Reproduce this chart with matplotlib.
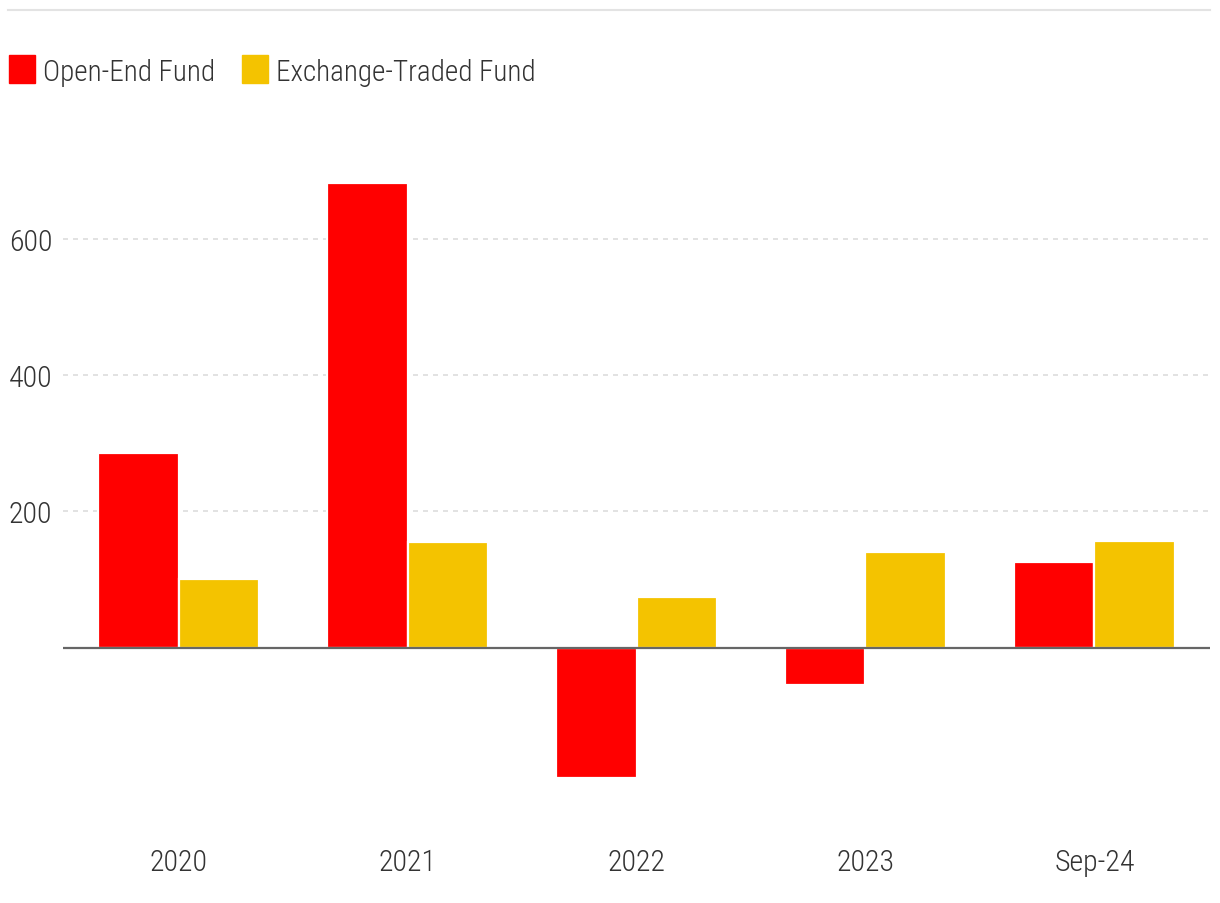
import matplotlib
matplotlib.use("Agg")
import matplotlib.pyplot as plt
from matplotlib.patches import Rectangle
from matplotlib.lines import Line2D
import matplotlib.transforms as mtransforms
import numpy as np

categories = ["2020", "2021", "2022", "2023", "Sep-24"]
open_end = [286, 682, -191, -55, 125]
etf = [101, 155, 75, 141, 157]
series_names = ["Open-End Fund", "Exchange-Traded Fund"]
yticks = [200, 400, 600]

plt.rcParams['font.family'] = ['Roboto Condensed', 'DejaVu Sans']
plt.rcParams['font.weight'] = 300

W, H = 1220, 904
fig = plt.figure(figsize=(W/100, H/100), dpi=100)
ax = fig.add_axes([63/W, 1-802/H, (1210-63)/W, (802-141)/H])

x = np.arange(len(categories))
bw = 0.35
red = "#ff0000"
gold = "#f4c300"
txtc = "#333333"
ax.bar(x - bw/2, open_end, bw, color=red, edgecolor="white", linewidth=1.6, zorder=2)
ax.bar(x + bw/2, etf, bw, color=gold, edgecolor="white", linewidth=1.6, zorder=2)

ax.set_xlim(-0.505, 4.505)
ax.set_ylim(-225, 745)
ax.set_yticks(yticks)
ax.set_yticklabels([str(v) for v in yticks])
ax.yaxis.grid(True, color="#dddddd", linestyle=(0, (3, 3)), linewidth=1.2, zorder=0)
ax.set_axisbelow(True)
ax.axhline(0, color="#666666", linewidth=1.6, zorder=3)
ax.set_xticks(x)
ax.set_xticklabels(categories)
for s in ax.spines.values():
    s.set_visible(False)
ax.tick_params(axis="both", length=0, labelsize=21.5, colors=txtc)
ax.tick_params(axis="x", pad=34)
ax.tick_params(axis="y", pad=0)
ytrans = mtransforms.blended_transform_factory(fig.transFigure, ax.transData)
for lbl in ax.get_yticklabels():
    lbl.set_horizontalalignment("left")
    lbl.set_transform(ytrans)
    lbl.set_x(9/W)

fig.add_artist(Line2D([8/W, 1210/W], [1-11/H, 1-11/H], color="#e3e3e3", linewidth=1.5))

# legend
sq_w, sq_h = 26, 28
leg_y = 70
items = [(9, red, series_names[0], 43), (242, gold, series_names[1], 276)]
for sx, col, name, tx in items:
    fig.add_artist(Rectangle((sx/W, 1-(leg_y+sq_h/2)/H), sq_w/W, sq_h/H,
                             transform=fig.transFigure, color=col))
    fig.text(tx/W, 1-leg_y/H, name, fontsize=21, color=txtc, va="center_baseline", ha="left")

fig.savefig("out.png", dpi=100)
